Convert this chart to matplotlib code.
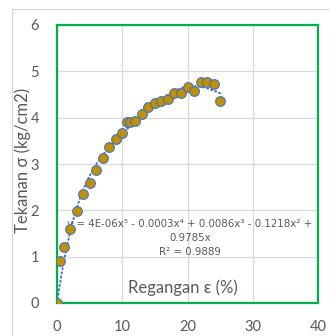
import numpy as np
import matplotlib
matplotlib.use('Agg')
import matplotlib.pyplot as plt
from matplotlib.patches import Rectangle

plt.rcParams['font.family'] = ['Lato', 'DejaVu Sans']

# data
strain = [0, 0.5, 1, 2, 3, 4, 5, 6, 7, 8, 9, 10, 10.7, 11.2, 11.9, 13, 14,
          15, 16, 17, 18, 19, 20, 21, 22, 23, 24, 25]
stress = [0, 0.9, 1.2, 1.6, 1.98, 2.35, 2.6, 2.87, 3.12, 3.36, 3.53, 3.66, 3.9,
          3.9, 3.93, 4.08, 4.22, 4.32, 4.36, 4.4, 4.53, 4.53, 4.66, 4.58,
          4.76, 4.78, 4.73, 4.35]
xticks = [0, 10, 20, 30, 40]
yticks = [0, 1, 2, 3, 4, 5, 6]
eq_text = ('y = 4E-06x\u2075 - 0.0003x\u2074 + 0.0086x\u00b3 - 0.1218x\u00b2 +\n'
           '0.9785x\nR\u00b2 = 0.9889')

txt = '#595959'
green = '#00B050'
grid = '#D9D9D9'

fig = plt.figure(figsize=(3.3, 3.36), dpi=100)
# outer chart border
fig.patches.append(Rectangle((12/330, -0.1), 1.2, (336-9)/336 + 0.1,
                             transform=fig.transFigure, fill=False,
                             edgecolor=grid, linewidth=0.9))
ax = fig.add_axes([57/330, 33/336, 261/330, 278/336])

# 5th order trendline through origin (as Excel)
x = np.array(strain)
y = np.array(stress)
A = np.vstack([x**k for k in range(1, 6)]).T
coef = np.linalg.lstsq(A, y, rcond=None)[0]
xs = np.linspace(0, 25, 200)
ys = sum(c * xs**(k+1) for k, c in enumerate(coef))
ax.plot(xs, ys, color='#4472C4', linewidth=1.4, linestyle=(0, (0.6, 1.6)),
        dash_capstyle='round', zorder=3)

ax.plot(strain, stress, 'o', color='#BF9000', markeredgecolor='#4472C4',
        markersize=7, markeredgewidth=0.8, linestyle='none', zorder=4)

ax.set_xlim(0, 40)
ax.set_ylim(0, 6)
ax.set_xticks(xticks)
ax.set_yticks(yticks)
ax.grid(True, color=grid, linewidth=0.9)
ax.set_axisbelow(True)
ax.tick_params(length=0, labelsize=10.5, colors=txt)
ax.tick_params(axis='y', pad=13)
ax.tick_params(axis='x', pad=12)
for s in ax.spines.values():
    s.set_color(green)
    s.set_linewidth(1.6)

ax.text(19.3, 0.34, 'Regangan \u03b5 (%)', fontsize=12, color=txt,
        ha='center', va='center')
fig.text(23/330, 1 - 160/336, 'Tekanan \u03c3 (kg/cm2)', fontsize=12,
         color=txt, rotation=90, ha='center', va='center')
ax.text(20.4, 1.82, eq_text, fontsize=7.4, color=txt, ha='center', va='top',
        linespacing=1.55, family=['DejaVu Sans'])

fig.savefig('out.png', dpi=100)
